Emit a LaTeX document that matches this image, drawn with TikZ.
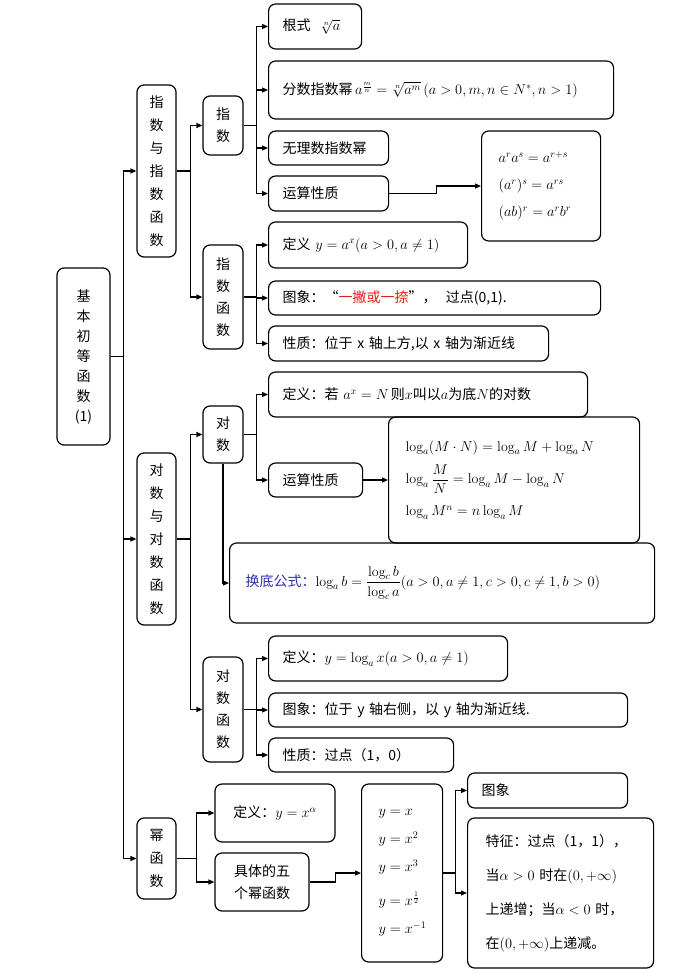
\documentclass[tikz,border=0pt]{standalone}
\usepackage{amsmath}
\usepackage{fontspec}
\newfontfamily\cjk{Noto Sans CJK SC}
\usetikzlibrary{arrows.meta}
\definecolor{markred}{RGB}{225,30,30}
\definecolor{formblue}{RGB}{45,45,175}

\begin{document}
\begin{tikzpicture}[x=1pt, y=-1pt, line width=1.2pt,
  box/.style={draw, rounded corners=7pt, font=\cjk\fontsize{14}{22}\selectfont},
  vbox/.style={box, align=center, inner sep=0pt},
  lbox/.style={box, anchor=west, align=left, inner xsep=14pt, inner ysep=0pt, text width=#1},
  link/.style={-{Triangle[length=6pt,width=5pt]}}]

\useasboundingbox (0,0) rectangle (700,973);

% Root and first level
\node[vbox, minimum width=53, minimum height=177, font=\cjk\fontsize{14}{20}\selectfont] (root) at (83.5,356.5) {基\\本\\初\\等\\函\\数\\(1)};
\node[vbox, minimum width=39, minimum height=172, font=\cjk\fontsize{14}{23}\selectfont] (zsall) at (156.5,171) {指\\数\\与\\指\\数\\函\\数};
\node[vbox, minimum width=39, minimum height=172, font=\cjk\fontsize{14}{23}\selectfont] (dsall) at (156.5,539) {对\\数\\与\\对\\数\\函\\数};
\node[vbox, minimum width=39, minimum height=81, font=\cjk\fontsize{14}{23}\selectfont] (mi) at (156.5,858.5) {幂\\函\\数};

% Second level
\node[vbox, minimum width=40, minimum height=59] (zs1) at (223,125.5) {指\\数};
\node[vbox, minimum width=40, minimum height=104] (zs2) at (223,297) {指\\数\\函\\数};
\node[vbox, minimum width=40, minimum height=57] (ds1) at (223,434.5) {对\\数};
\node[vbox, minimum width=40, minimum height=105] (ds2) at (223,709.5) {对\\数\\函\\数};
\node[vbox, minimum width=120, minimum height=58] (mdef) at (275,813) {定义：$y=x^{\alpha}$};
\node[vbox, minimum width=94, minimum height=58] (mfive) at (262,882) {具体的五\\个幂函数};

% Exponent
\node[lbox=65pt, minimum height=45] (gen) at (268,26.5) {根式\ \ $\sqrt[n]{a}$};
\node[lbox=317pt, minimum height=58] (fen) at (268,90) {分数指数幂$\,a^{\frac{m}{n}}=\sqrt[n]{a^{m}}\,(a>0,m,n\in N^{*},n>1)$};
\node[lbox=92pt, minimum height=34] (wuli) at (268,148) {无理数指数幂};
\node[lbox=92pt, minimum height=35] (yun1) at (268,193.5) {运算性质};
\node[lbox=85pt, inner xsep=17pt, minimum height=110] (yunres) at (481,186)
  {$a^{r}a^{s}=a^{r+s}$\\[5pt] $(a^{r})^{s}=a^{rs}$\\[5pt] $(ab)^{r}=a^{r}b^{r}$};

% Exponential function
\node[lbox=171pt, minimum height=46] (zdef) at (268,245) {定义\ $y=a^{x}(a>0,a\neq1)$};
\node[lbox=304pt, minimum height=34] (ztu) at (268,298) {图象：“{\color{markred}一撇或一捺}”，\ \ 过点(0,1).};
\node[lbox=252pt, minimum height=35] (zxz) at (268,343.5) {性质：位于 x 轴上方,以 x 轴为渐近线};

% Logarithm
\node[lbox=291pt, minimum height=45] (ddef) at (268,394.5) {定义：若\ $a^{x}=N$\,则$x$叫以$a$为底$N$的对数};
\node[lbox=66pt, minimum height=34] (dyun) at (268,480) {运算性质};
\node[lbox=217pt, inner xsep=17pt, minimum height=126] (dres) at (388,480)
  {$\log_{a}(M\cdot N)=\log_{a}M+\log_{a}N$\\[8pt] $\log_{a}\dfrac{M}{N}=\log_{a}M-\log_{a}N$\\[10pt] $\log_{a}M^{n}=n\log_{a}M$};
\node[lbox=393pt, inner xsep=16pt, minimum height=80] (huandi) at (229,583)
  {{\color{formblue}换底公式：}$\log_{a}b=\dfrac{\log_{c}b}{\log_{c}a}(a>0,a\neq1,c>0,c\neq1,b>0)$};

% Logarithmic function
\node[lbox=211pt, minimum height=45] (ldef) at (268,658.5) {定义：$y=\log_{a}x(a>0,a\neq1)$};
\node[lbox=331pt, minimum height=34] (ltu) at (268,710) {图象：位于 y 轴右侧，以 y 轴为渐近线.};
\node[lbox=157pt, minimum height=34] (lxz) at (268,755) {性质：过点（1，0）};

% Power function
\node[lbox=59pt, inner xsep=11pt, minimum height=178] (five) at (361,873)
  {\hspace*{6pt}$y=x$\\[6pt] \hspace*{6pt}$y=x^{2}$\\[6pt] \hspace*{6pt}$y=x^{3}$\\[12pt] \hspace*{6pt}$y=x^{\frac{1}{2}}$\\[6pt] \hspace*{6pt}$y=x^{-1}$};
\node[lbox=132pt, minimum height=35] (mtu) at (467,790.5) {图象};
\node[lbox=150pt, inner xsep=18pt, minimum height=150] (mtz) at (467,893)
  {特征：过点（1，1），\\[12pt] 当$\alpha>0$\ 时在$(0,+\infty)$\\[12pt] 上递增；当$\alpha<0$\ 时，\\[12pt] 在$(0,+\infty)$上递减。};

% Connectors
\foreach \n in {zsall,dsall,mi}
  \draw[link] (root.east) -- ++(13,0) |- (\n.west);
\foreach \n in {zs1,zs2}
  \draw[link] (zsall.east) -- ++(14,0) |- (\n.west);
\foreach \n in {ds1,ds2}
  \draw[link] (dsall.east) -- ++(14,0) |- (\n.west);
\foreach \n in {mdef,mfive}
  \draw[link] (mi.east) -- ++(20,0) |- (\n.west);
\foreach \n in {gen,fen,wuli,yun1}
  \draw[link] (zs1.east) -- ++(13,0) |- (\n.west);
\foreach \n in {zdef,ztu,zxz}
  \draw[link] (zs2.east) -- ++(13,0) |- (\n.west);
\foreach \n in {ddef,dyun}
  \draw[link] (ds1.east) -- ++(13,0) |- (\n.west);
\foreach \n in {ldef,ltu,lxz}
  \draw[link] (ds2.east) -- ++(13,0) |- (\n.west);
\foreach \n in {mtu,mtz}
  \draw[link] (five.east) -- ++(12,0) |- (\n.west);

\draw[link] (yun1.east) -- ++(47,0) |- (yunres.west);
\draw[link] (dyun.east) -- (dres.west);
\draw[link] (ds1.south) |- (huandi.west);
\draw[link] (mfive.east) -- ++(26,0) |- (five.west);

\end{tikzpicture}
\end{document}
